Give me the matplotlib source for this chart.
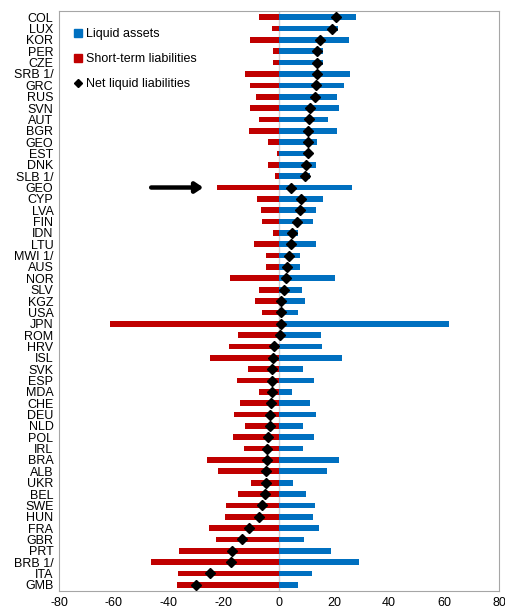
import numpy as np
import matplotlib.pyplot as plt
from matplotlib.lines import Line2D

plt.rcParams['font.family'] = ['Liberation Sans', 'DejaVu Sans']
plt.rcParams['axes.unicode_minus'] = False

paises = ['COL', 'LUX', 'KOR', 'PER', 'CZE', 'SRB 1/', 'GRC', 'RUS', 'SVN', 'AUT',
          'BGR', 'GEO', 'EST', 'DNK', 'SLB 1/', 'GEO', 'CYP', 'LVA', 'FIN', 'IDN',
          'LTU', 'MWI 1/', 'AUS', 'NOR', 'SLV', 'KGZ', 'USA', 'JPN', 'ROM', 'HRV',
          'ISL', 'SVK', 'ESP', 'MDA', 'CHE', 'DEU', 'NLD', 'POL', 'IRL', 'BRA',
          'ALB', 'UKR', 'BEL', 'SWE', 'HUN', 'FRA', 'GBR', 'PRT', 'BRB 1/', 'ITA', 'GMB']

activos = [27.9, 21.4, 25.3, 16.1, 15.9, 25.8, 23.6, 21.0, 21.8, 17.9,
           21.2, 14.0, 11.9, 13.6, 11.1, 26.5, 15.9, 13.6, 12.2, 6.9,
           13.3, 7.7, 7.7, 20.2, 8.5, 9.4, 6.8, 62.0, 15.1, 15.6,
           22.8, 8.9, 12.6, 4.7, 11.3, 13.3, 8.7, 12.8, 8.7, 22.0,
           17.5, 5.2, 9.8, 13.1, 12.4, 14.7, 9.1, 19.0, 29.2, 12.1, 7.0]

pasivos = [-7.4, -2.4, -10.5, -2.3, -2.3, -12.4, -10.4, -8.3, -10.5, -7.2,
           -11.0, -3.9, -0.7, -3.9, -1.6, -22.7, -8.1, -6.4, -6.0, -2.3,
           -9.0, -4.6, -4.9, -17.7, -7.2, -8.7, -6.0, -61.5, -15.0, -18.0,
           -25.0, -11.4, -15.4, -7.4, -14.3, -16.4, -12.5, -16.9, -12.9, -26.3,
           -22.2, -10.0, -14.8, -19.2, -19.7, -25.6, -22.9, -36.3, -46.7, -36.9, -37.2]

neto = [20.6, 19.3, 14.9, 13.9, 14.0, 13.7, 13.4, 13.0, 11.3, 10.8,
        10.4, 10.4, 10.4, 9.9, 9.6, 4.2, 8.0, 7.5, 6.5, 4.7,
        4.5, 3.5, 3.0, 2.7, 1.7, 0.9, 0.9, 0.7, 0.2, -1.8,
        -2.1, -2.4, -2.6, -2.7, -3.0, -3.1, -3.4, -3.9, -4.2, -4.3,
        -4.7, -4.8, -5.0, -6.0, -7.2, -11.0, -13.6, -17.2, -17.5, -25.0, -30.2]

azul = '#0070C0'
rojo = '#C00000'

fig = plt.figure(figsize=(5.06, 6.10), dpi=100)
ax = fig.add_axes([0.1166, 0.031, 0.8695, 0.951])

y = np.arange(len(paises))
ax.axvline(0, color='#D0D0D0', lw=1, zorder=1)
ax.barh(y, activos, height=0.5, color=azul, zorder=2)
ax.barh(y, pasivos, height=0.5, color=rojo, zorder=2)
ax.plot(neto, y, 'D', color='black', ms=5, zorder=3)

# flecha que señala GEO
ax.annotate('', xy=(-26.5, 15), xytext=(-47.5, 15),
            arrowprops=dict(arrowstyle='-|>,head_length=0.45,head_width=0.3',
                            color='black', lw=3.2))

ax.set_xlim(-80, 80)
ax.set_ylim(len(paises) - 0.45, -0.55)
ax.set_xticks(np.arange(-80, 81, 20))
ax.set_yticks(y)
ax.set_yticklabels(paises)
ax.tick_params(length=0, labelsize=9, pad=4)
for s in ax.spines.values():
    s.set_color('#A6A6A6')

handles = [Line2D([], [], marker='s', ls='', color=azul, ms=6),
           Line2D([], [], marker='s', ls='', color=rojo, ms=6),
           Line2D([], [], marker='D', ls='', color='black', ms=4)]
ax.legend(handles, ['Liquid assets', 'Short-term liabilities', 'Net liquid liabilities'],
          loc='upper left', frameon=False, fontsize=9, labelspacing=1.05,
          handlelength=0.6, handletextpad=0.3, borderaxespad=0.5,
          bbox_to_anchor=(0.01, 0.99))

fig.savefig('out.png', dpi=100)
